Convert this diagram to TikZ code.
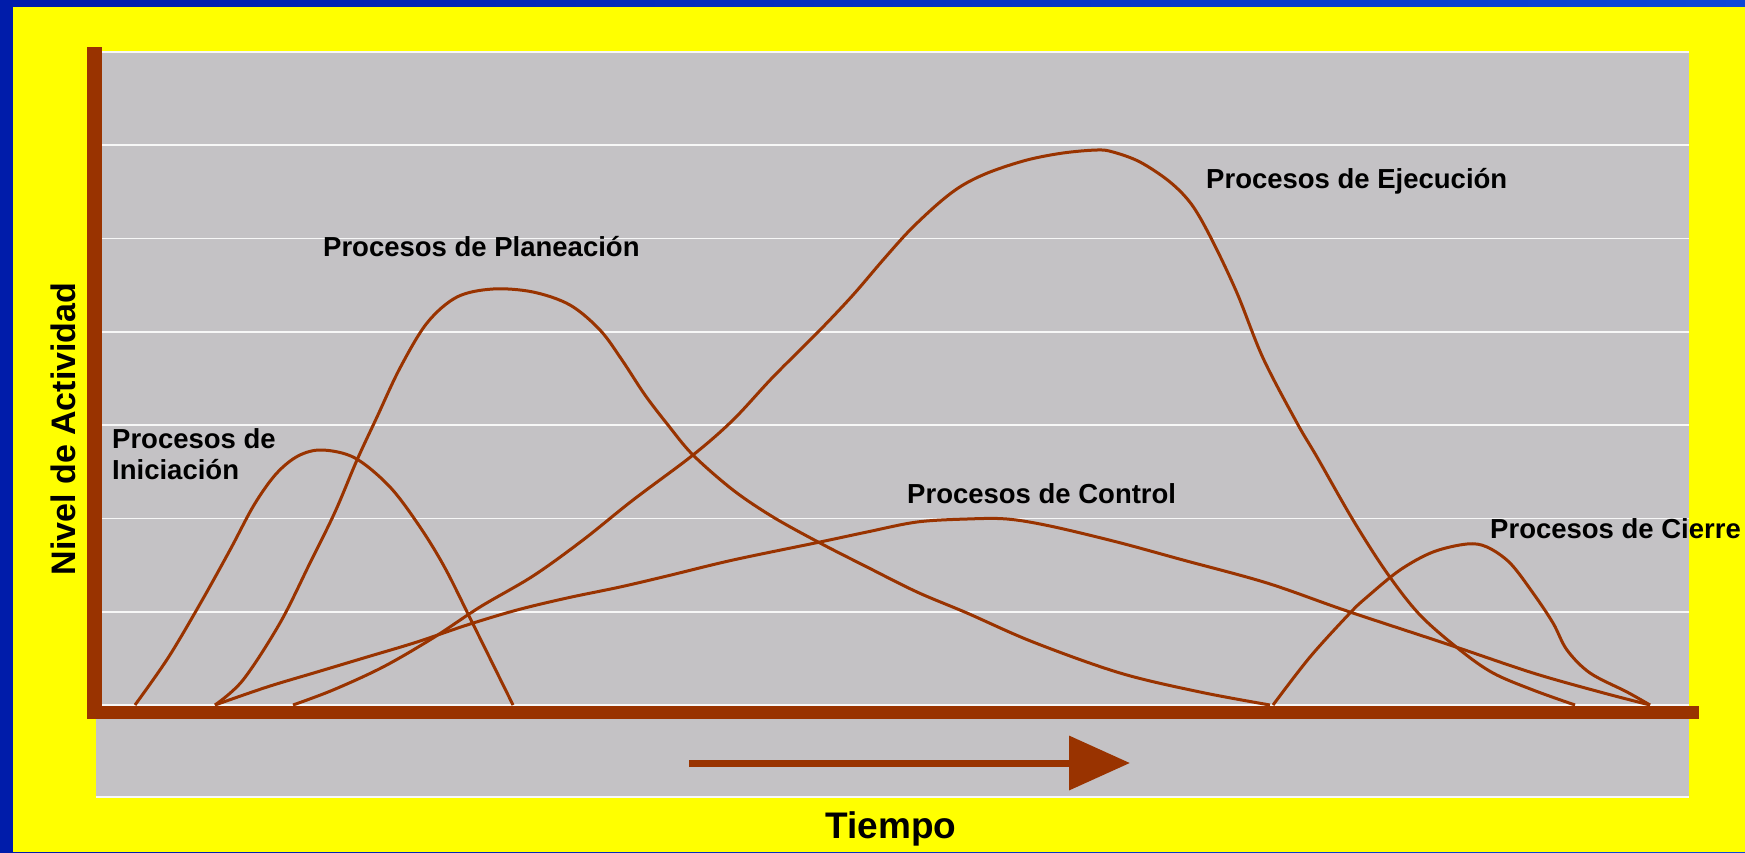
\documentclass[tikz,border=0pt]{standalone}
\usepackage{fontspec}
\setmainfont{Liberation Sans}
\usetikzlibrary{arrows.meta, positioning}
\usepackage{xcolor}
\definecolor{brick}{RGB}{153,51,0}
\definecolor{plotgray}{RGB}{196,194,197}
\definecolor{slideyellow}{RGB}{255,255,0}
\definecolor{slideblue}{RGB}{0,28,170}
\definecolor{slidebluelight}{RGB}{12,72,215}
\def\gridsep{93.29}

\begin{document}
\begin{tikzpicture}[x=1pt, y=-1pt]
    \tikzstyle{curve}=[draw=brick, line width=3pt, line join=round]
    \tikzstyle{axis bar}=[fill=brick]
    \tikzstyle{grid line}=[draw=white!94!gray, line width=1.6pt]
    \tikzstyle{annot}=[font=\bfseries\fontsize{27.5}{32}\selectfont, anchor=base west, inner sep=0pt]
    \tikzstyle{axis label}=[font=\bfseries\fontsize{34}{40}\selectfont, anchor=base, inner sep=0pt]

    \useasboundingbox (0,0) rectangle (1745,852);

    % Draw the slide background and the plot area
    \shade[left color=slideblue, right color=slidebluelight] (0,0) rectangle (1745,852);
    \fill[slideyellow] (13,7) rectangle (1745,852);
    \fill[plotgray] (96,52) rectangle (1689,797);

    % Draw the grid lines
    \foreach \k in {0,...,7}
        \draw[grid line] (102,52+\k*\gridsep) -- (1689,52+\k*\gridsep);
    \draw[grid line] (96,797) -- (1689,797);

    % Draw the process curves
    % Iniciacion
    \draw[curve] plot[smooth, tension=0.55] coordinates {(135,705) (168,658) (200,604) (230,550) (254,505) (276,474) (298,456) (322,450) (355,458) (390,487) (420,527) (445,568) (472,622) (513,705)};
    % Planeacion
    \draw[curve] plot[smooth, tension=0.55] coordinates {(215,705) (243,680) (280,623) (310,563) (335,512) (357,460) (377,417) (400,368) (427,323) (457,297) (493,289) (533,292) (570,305) (600,330) (622,360) (645,395) (668,425) (693,455) (733,490) (773,517) (820,543) (867,567) (917,592) (967,613) (1033,642) (1120,673) (1200,692) (1270,705)};
    % Ejecucion
    \draw[curve] plot[smooth, tension=0.55] coordinates {(293,705) (333,690) (383,667) (433,638) (480,607) (533,576) (583,540) (633,500) (693,455) (733,420) (773,377) (820,330) (853,295) (883,260) (910,230) (940,202) (963,185) (990,172) (1027,160) (1063,153) (1097,150) (1113,152) (1140,162) (1170,182) (1192,205) (1212,240) (1237,293) (1263,358) (1297,423) (1317,457) (1353,520) (1387,573) (1420,615) (1460,650) (1493,673) (1533,690) (1575,705)};
    % Control
    \draw[curve] plot[smooth, tension=0.55] coordinates {(215,705) (267,687) (317,672) (367,657) (417,642) (467,625) (517,610) (567,598) (620,587) (667,576) (733,560) (820,542) (867,532) (917,522) (967,519) (1007,519) (1050,526) (1117,542) (1183,560) (1267,583) (1347,611) (1450,645) (1533,673) (1600,692) (1650,705)};
    % Cierre
    \draw[curve] plot[smooth, tension=0.55] coordinates {(1273,705) (1310,657) (1350,613) (1367,597) (1400,570) (1433,552) (1467,544) (1487,547) (1510,563) (1533,593) (1553,623) (1567,650) (1590,673) (1627,692) (1650,705)};

    % Draw the axes
    \fill[axis bar] (87,47) rectangle (102,719);
    \fill[axis bar] (87,706) rectangle (1699,719);

    % Time arrow
    \coordinate (t-start) at (689,763);
    \coordinate (t-end) at (1130,763);
    \draw[draw=brick, line width=7pt, -{Triangle[length=61pt, width=53pt]}] (t-start) -- (t-end);

    % Annotate the curves
    \node[annot] (ini-1) at (112,448) {Procesos de};
    \node[annot] (ini-2) at (112,479) {Iniciación};
    \node[annot] (plan) at (323,256) {Procesos de Planeación};
    \node[annot] (ejec) at (1206,188) {Procesos de Ejecución};
    \node[annot] (ctrl) at (907,503) {Procesos de Control};
    \node[annot] (cierre) at (1490,538) {Procesos de Cierre};

    % Annotate the axes
    \node[axis label, rotate=90] (nivel) at (75,429) {Nivel de Actividad};
    \node[axis label, font=\bfseries\fontsize{37}{42}\selectfont] (tiempo) at (891,838) {Tiempo};
\end{tikzpicture}
\end{document}
